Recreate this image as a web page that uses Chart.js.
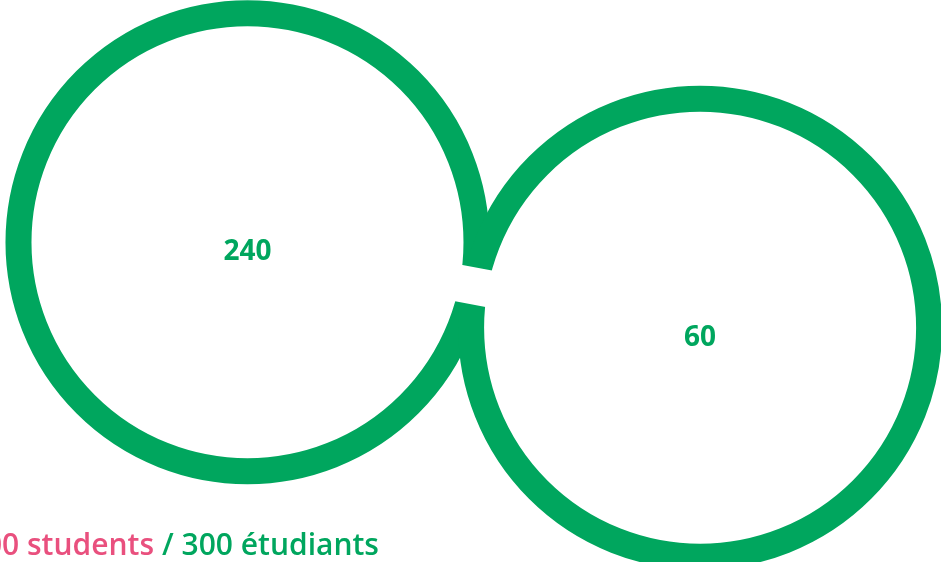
<!DOCTYPE html>
<html>
<head>
<meta charset="utf-8">
<script src="https://cdn.jsdelivr.net/npm/chart.js@4/dist/chart.umd.min.js"></script>
<style>
  html, body { margin: 0; padding: 0; background: #fff; overflow: hidden; }
  #wrap { position: relative; width: 941px; height: 562px; }
</style>
</head>
<body>
<div id="wrap"><canvas id="circles" width="941" height="562"></canvas></div>
<script>
// ── Data ──
const groups = ['240', '60'];
const values = [240, 60];
const centerX = [26.3, 74.4];   // position on 0-100 x scale
const centerY = [43.1, 58.3];   // position on 0-100 y scale (top = 0)
const totalLabel = '300 students';
const totalLabelFr = '/ 300 étudiants';

const GREEN = '#00a65e';
const PINK = '#e9507e';

// white cut where the two rings meet
const gapPlugin = {
  id: 'gap',
  afterDatasetsDraw(chart) {
    const pts = chart.getDatasetMeta(0).data;
    if (pts.length < 2) return;
    const a = pts[0], b = pts[1];
    const mx = (a.x + b.x) / 2, my = (a.y + b.y) / 2;
    const ang = Math.atan2(b.y - a.y, b.x - a.x);
    const ctx = chart.ctx;
    ctx.save();
    ctx.translate(mx, my + 1);
    ctx.rotate(ang);
    ctx.fillStyle = '#fff';
    ctx.fillRect(-45, -18.5, 90, 37);
    ctx.restore();
  }
};

// values in the middle of each ring + caption at the bottom
const labelPlugin = {
  id: 'labels',
  afterDraw(chart) {
    const ctx = chart.ctx;
    const pts = chart.getDatasetMeta(0).data;
    ctx.save();
    ctx.font = 'bold 28px "Open Sans", sans-serif';
    ctx.fillStyle = GREEN;
    ctx.textAlign = 'center';
    ctx.textBaseline = 'middle';
    pts.forEach((p, i) => ctx.fillText(groups[i], p.x, p.y + 10));

    ctx.font = '600 30px "Open Sans", sans-serif';
    ctx.textBaseline = 'alphabetic';
    ctx.textAlign = 'right';
    ctx.fillStyle = PINK;
    ctx.fillText(totalLabel, 154, 555);
    ctx.textAlign = 'left';
    ctx.fillStyle = GREEN;
    ctx.fillText(totalLabelFr, 162, 555);
    ctx.restore();
  }
};

function initCircles() {
  const ctx = document.getElementById('circles');
  new Chart(ctx, {
    type: 'bubble',
    data: {
      labels: groups,
      datasets: [{
        data: values.map((v, i) => ({ x: centerX[i], y: centerY[i], value: v })),
        radius: 229,
        borderWidth: 26,
        borderColor: GREEN,
        backgroundColor: 'rgba(0,0,0,0)',
        clip: false
      }]
    },
    options: {
      responsive: false,
      animation: false,
      events: [],
      layout: { padding: 0, autoPadding: false },
      plugins: {
        legend: { display: false },
        tooltip: { enabled: false }
      },
      scales: {
        x: { type: 'linear', min: 0, max: 100, display: false },
        y: { type: 'linear', min: 0, max: 100, reverse: true, display: false }
      }
    },
    plugins: [gapPlugin, labelPlugin]
  });
}

initCircles();
</script>
</body>
</html>
